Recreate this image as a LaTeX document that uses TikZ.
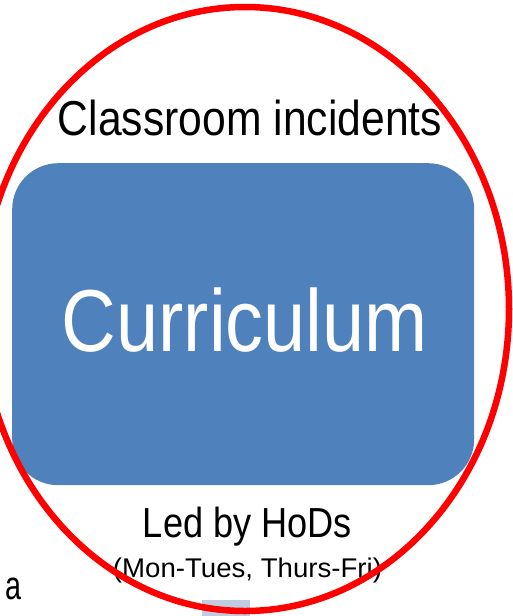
\documentclass[tikz,border=0pt]{standalone}
\usepackage{fontspec}
\setmainfont{Liberation Sans}
\usetikzlibrary{shapes.geometric}
\definecolor{boxblue}{HTML}{4F81BD}
\definecolor{ringred}{HTML}{FF0000}
\definecolor{tabblue}{HTML}{C0CCE0}
\tikzset{
  lbl/.style={inner sep=0pt, anchor=base, text=black},
  mainbox/.style={fill=boxblue, draw=none, rounded corners=46pt, inner sep=0pt},
  ring/.style={ellipse, draw=ringred, line width=6.5pt, inner sep=0pt},
}
\begin{document}
\begin{tikzpicture}[x=1pt,y=-1pt]
\useasboundingbox (0,0) rectangle (513,616);
\node[fill=tabblue, minimum width=48pt, minimum height=20pt, inner sep=0pt, anchor=north west] (tab) at (202,600) {};
\node[mainbox, minimum width=462pt, minimum height=322pt, anchor=north west] (box) at (12,163) {};
\node[lbl, text=white] (cur) at (245,351) {\fontsize{88}{100}\selectfont\resizebox{366pt}{\height}{Curriculum}};
\node[lbl] (inc) at (250,135) {\fontsize{49}{58}\selectfont\resizebox{384pt}{\height}{Classroom incidents}};
\node[lbl] (led) at (247.5,537) {\fontsize{42}{50}\selectfont\resizebox{209pt}{\height}{Led by HoDs}};
\node[lbl] (days) at (247.5,577) {\fontsize{27}{32}\selectfont\resizebox{269pt}{\height}{(Mon-Tues, Thurs-Fri)}};
\node[lbl, anchor=base west] (a) at (5,599) {\fontsize{40}{48}\selectfont\resizebox{16pt}{\height}{a}};
\node[ring, minimum width=528pt, minimum height=604pt] (ring) at (245,309) {};
\end{tikzpicture}
\end{document}
